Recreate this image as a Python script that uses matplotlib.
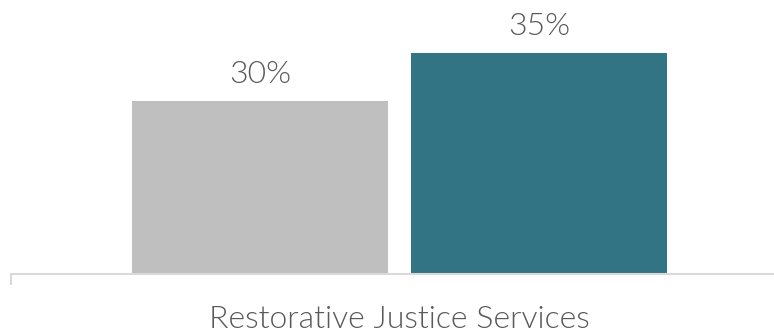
import matplotlib.pyplot as plt

# share of respondents using the service
category = 'Restorative Justice Services'
values = [30, 35]
colors = ['#bfbfbf', '#327483']
offsets = [-0.1795, 0.1795]

plt.rcParams['font.family'] = ['Lato', 'DejaVu Sans']

fig = plt.figure(figsize=(7.74, 3.33), dpi=100)
ax = fig.add_axes([11/774, 59/333, 763/774, 274/333])

for off, v, c in zip(offsets, values, colors):
    ax.bar(off, v - 12, bottom=12, width=0.3295, color=c)
    ax.annotate(f'{v}%', (off, v), xytext=(0, 13), textcoords='offset points',
                ha='center', va='baseline', fontsize=23, fontweight=300,
                color='#595959')

ax.set_xlim(-0.5, -0.5 + 763/777)
ax.set_ylim(12, 12 + 274/9.6)

for s in ['top', 'right', 'left']:
    ax.spines[s].set_visible(False)
ax.spines['bottom'].set_color('#d9d9d9')
ax.spines['bottom'].set_linewidth(1.5)
ax.set_yticks([])
ax.set_xticks([])
ax.set_xticks([-0.5], minor=True)
ax.tick_params(axis='x', which='minor', length=8, width=1.5, color='#d9d9d9')

fig.text(399.5/774, 5/333, category, ha='center', va='baseline',
         fontsize=23, fontweight=300, color='#595959')

plt.savefig('out.png', dpi=100)
